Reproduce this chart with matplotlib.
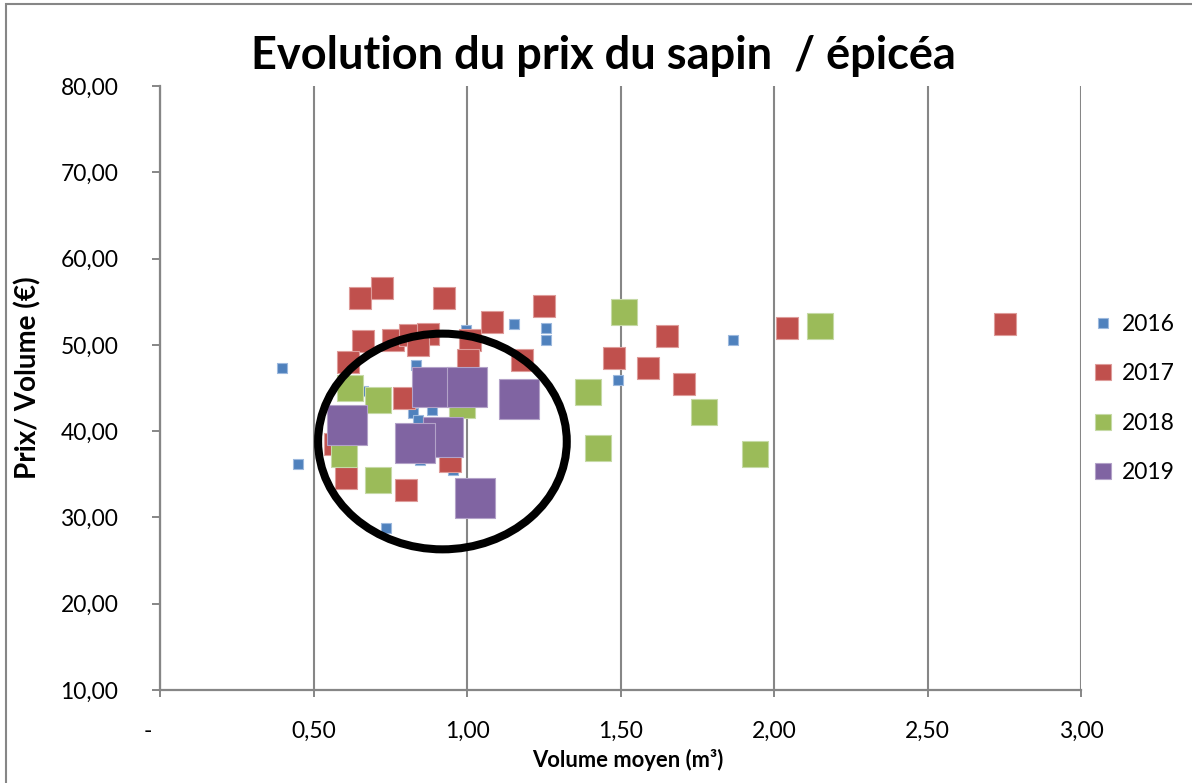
import matplotlib
matplotlib.use("Agg")
import matplotlib.pyplot as plt
from matplotlib.patches import Ellipse, Rectangle
from matplotlib.lines import Line2D
from matplotlib.ticker import FuncFormatter, MultipleLocator

plt.rcParams['font.family'] = ['Lato', 'DejaVu Sans']

# volume moyen (m3) / prix par volume (EUR)
vol_2016 = [0.396, 0.448, 0.662, 0.736, 0.825, 0.833, 0.842, 0.847, 0.885, 0.954,
            0.997, 1.153, 1.257, 1.257, 1.493, 1.865]
prix_2016 = [47.3, 36.2, 44.6, 28.75, 42.1, 47.7, 41.3, 36.6, 42.5, 35.5,
             51.7, 52.4, 51.9, 50.6, 45.9, 50.6]

vol_2017 = [0.651, 0.722, 0.925, 1.251, 1.081, 0.662, 0.760, 0.814, 0.872, 0.839,
            1.010, 1.002, 1.179, 0.611, 0.794, 0.570, 0.605, 0.801, 0.945, 1.480,
            1.591, 1.650, 1.708, 2.041, 2.753]
prix_2017 = [55.4, 56.6, 55.4, 54.5, 52.65, 50.4, 50.6, 51.15, 51.3, 50.0,
             50.6, 48.25, 48.25, 48.05, 43.8, 38.5, 34.55, 33.2, 36.5, 48.45,
             47.3, 51.03, 45.43, 51.9, 52.4]

vol_2018 = [0.618, 0.709, 0.983, 0.598, 0.709, 1.395, 1.428, 1.512, 1.773, 1.938, 2.150]
prix_2018 = [45.0, 43.6, 43.0, 37.3, 34.3, 44.5, 38.0, 53.85, 42.2, 37.3, 52.2]

vol_2019 = [0.608, 0.885, 1.000, 1.169, 0.922, 0.829, 1.026]
prix_2019 = [40.7, 45.1, 45.1, 43.7, 39.3, 38.6, 32.3]

years = ['2016', '2017', '2018', '2019']
colors = {'2016': '#4F81BD', '2017': '#C0504D', '2018': '#9BBB59', '2019': '#8064A2'}
edges = {'2016': '#9DB9DE', '2017': '#DE9C9A', '2018': '#C6DAA6', '2019': '#B3A2C8'}
sizes = {'2016': 52, '2017': 245, '2018': 335, '2019': 800}
series = {'2016': (vol_2016, prix_2016), '2017': (vol_2017, prix_2017),
          '2018': (vol_2018, prix_2018), '2019': (vol_2019, prix_2019)}

# hand-drawn circle around the 2019 cluster
circle_center = (0.92, 38.8)
circle_w, circle_h = 0.81, 25.0

fig = plt.figure(figsize=(11.92, 7.83), dpi=100)
ax = fig.add_axes([160 / 1192, 1 - 690 / 783, 921 / 1192, 604 / 783])

for y in years:
    xs, ys = series[y]
    ax.scatter(xs, ys, s=sizes[y], marker='s', color=colors[y],
               edgecolors=edges[y], linewidths=0.8, zorder=3)

ax.add_patch(Ellipse(circle_center, circle_w, circle_h, fill=False,
                     edgecolor='black', lw=5.8, zorder=5))

ax.set_xlim(0, 3)
ax.set_ylim(10, 80)
ax.xaxis.set_major_locator(MultipleLocator(0.5))
ax.yaxis.set_major_locator(MultipleLocator(10))


def fr_fmt(v, pos):
    if abs(v) < 1e-9:
        return '-    '
    return f"{v:.2f}".replace('.', ',')


ax.xaxis.set_major_formatter(FuncFormatter(fr_fmt))
ax.yaxis.set_major_formatter(FuncFormatter(fr_fmt))

grey = '#868686'
ax.grid(axis='x', color=grey, lw=1.5, zorder=1)
ax.set_axisbelow(True)
for side in ['top', 'right']:
    ax.spines[side].set_visible(False)
for side in ['left', 'bottom']:
    ax.spines[side].set_color(grey)
    ax.spines[side].set_linewidth(1.6)
ax.tick_params(axis='y', direction='out', length=6, width=1.4, color=grey,
               pad=24, labelsize=16.5)
ax.tick_params(axis='x', direction='out', length=5, width=1.4, color=grey,
               pad=17, labelsize=16.5)

ax.set_xlabel('Volume moyen (m³)', fontsize=15.8, fontweight='bold')
ax.xaxis.set_label_coords(0.508, -0.097)
ax.set_ylabel('Prix/ Volume (€)', fontsize=20, fontweight='bold')
ax.yaxis.set_label_coords(-0.129, 0.517)

fig.text(603 / 1192, 1 - 56 / 783, 'Evolution du prix du sapin  / épicéa',
         fontsize=32.5, fontweight='bold', ha='center', va='center')

handles = [Line2D([], [], ls='none', marker='s', markersize=7.2 if y == '2016' else 11.5,
                  markerfacecolor=colors[y], markeredgecolor=edges[y], markeredgewidth=0.8)
           for y in years]
fig.legend(handles, years, loc='upper left', bbox_to_anchor=(1094 / 1192, 1 - 314 / 783),
           frameon=False, fontsize=16.5, handlelength=0.8, handletextpad=0.43,
           labelspacing=1.24, borderpad=0, borderaxespad=0)

# chart frame (only left/top edges fall inside the picture)
fig.patches.append(Rectangle((6 / 1192, -0.1), 1.2, 1.1 - 4 / 783, fill=False,
                             edgecolor=grey, lw=1.5, transform=fig.transFigure,
                             figure=fig))

fig.savefig('out.png', dpi=100)
